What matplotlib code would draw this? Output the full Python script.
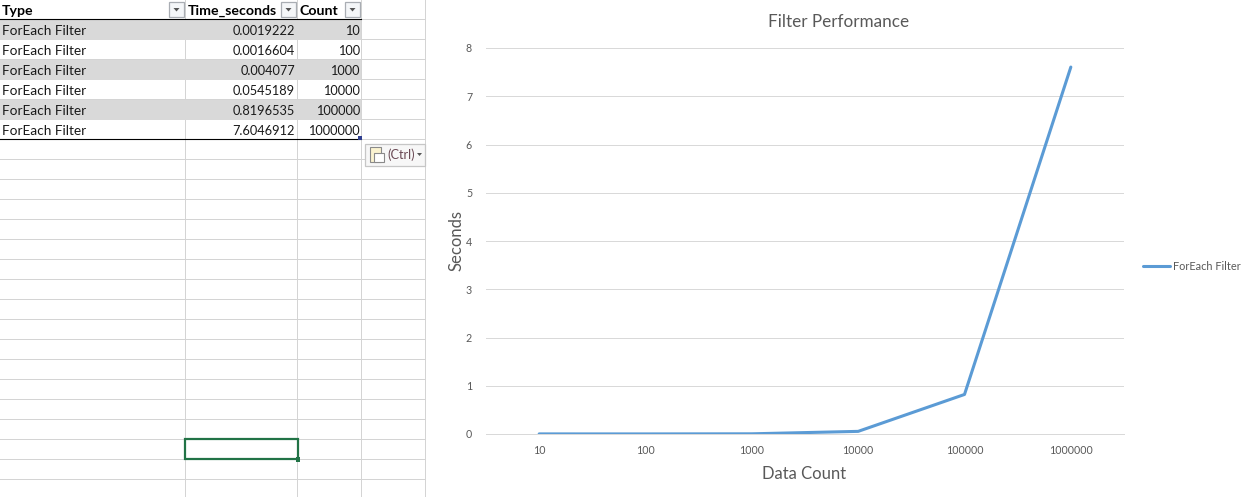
import matplotlib
matplotlib.use('Agg')
import matplotlib.pyplot as plt
from matplotlib.patches import Rectangle, Polygon

plt.rcParams['font.family'] = ['Lato', 'DejaVu Sans']

# --- Data ---
SERIES_NAME = 'ForEach Filter'
COUNTS = [10, 100, 1000, 10000, 100000, 1000000]
TIMES = [0.0019222, 0.0016604, 0.004077, 0.0545189, 0.8196535, 7.6046912]
HEADERS = ['Type', 'Time_seconds', 'Count']
Y_TICKS = [0, 1, 2, 3, 4, 5, 6, 7, 8]

# --- Layout (pixels of the 1252x497 picture) ---
W, H = 1252, 497
COL_LINES = [185, 297, 361, 425]
ROW_H = 20
GRID = '#d4d4d4'
TEXT = '#595959'
LINE_BLUE = '#5b9bd5'

fig = plt.figure(figsize=(W / 100, H / 100), dpi=100)

# --- Spreadsheet part ---
sheet = fig.add_axes([0, 0, 1, 1])
sheet.set_xlim(0, W)
sheet.set_ylim(H, 0)
sheet.axis('off')

for i in range(1, 25):
    sheet.plot([0, 425], [i * ROW_H - 1] * 2, color=GRID, lw=0.72, zorder=1)
for x in COL_LINES:
    sheet.plot([x, x], [0, H], color=GRID, lw=0.72, zorder=1)

for i in range(len(COUNTS)):
    top = 20 + i * ROW_H
    if i % 2 == 0:
        sheet.add_patch(Rectangle((0, top), 361, ROW_H, color='#d9d9d9', lw=0, zorder=2))
    mid = top + 11
    sheet.text(2, mid, SERIES_NAME, fontsize=9.8, color='#1a1a1a', va='center', zorder=4)
    sheet.text(295, mid, str(TIMES[i]), fontsize=9.2, color='#1a1a1a', va='center', ha='right', zorder=4)
    sheet.text(360, mid, str(COUNTS[i]), fontsize=9.2, color='#1a1a1a', va='center', ha='right', zorder=4)

sheet.plot([0, 361], [19, 19], color='black', lw=0.8, zorder=3)
sheet.plot([0, 361], [139, 139], color='black', lw=0.8, zorder=3)
sheet.add_patch(Rectangle((358, 136), 3.5, 3.5, color='#2f3f8f', lw=0, zorder=5))

# header row with filter buttons
for label, x in zip(HEADERS, [2, 188, 300]):
    sheet.text(x, 11, label, fontsize=10.2, fontweight='bold', color='black', va='center', zorder=4)
for x in [169, 281, 345]:
    sheet.add_patch(Rectangle((x, 2), 15, 15, fc='#f4f6f8', ec='#a9adb3', lw=0.9, zorder=4))
    sheet.add_patch(Polygon([(x + 4.5, 8), (x + 10.5, 8), (x + 7.5, 11.5)], color='#555555', lw=0, zorder=5))

# paste options button
sheet.add_patch(Rectangle((365, 143.5), 59.5, 22, fc='#f7f7f7', ec='#c6c6c6', lw=0.9, zorder=4))
sheet.add_patch(Rectangle((370, 147), 11, 15, fc='#fbf3d0', ec='#8a8a8a', lw=0.8, zorder=5))
sheet.add_patch(Rectangle((374, 153), 10, 9, fc='white', ec='#8a8a8a', lw=0.8, zorder=6))
sheet.text(387.5, 154.5, '(Ctrl)', fontsize=9.2, color='#6b4a55', va='center', zorder=5)
sheet.add_patch(Polygon([(417, 153), (422, 153), (419.5, 156)], color='#555555', lw=0, zorder=5))

# selected cell
sheet.add_patch(Rectangle((185, 439), 113, 20, fill=False, ec='#217346', lw=1.6, zorder=6))
sheet.add_patch(Rectangle((295.5, 457), 4.5, 4.5, color='#217346', lw=0, zorder=7))

# --- Chart part ---
ax = fig.add_axes([486 / W, (H - 434) / H, (1124 - 486) / W, (434 - 48) / H])
ax.patch.set_alpha(0)
positions = range(len(COUNTS))
ax.plot(positions, TIMES, color=LINE_BLUE, lw=2.2, solid_capstyle='round', label=SERIES_NAME, zorder=3)
ax.set_xlim(-0.5, 5.5)
ax.set_ylim(0, 8)
ax.set_xticks(list(positions))
ax.set_xticklabels([str(c) for c in COUNTS])
ax.set_yticks(Y_TICKS)
ax.grid(axis='y', color='#d9d9d9', lw=0.72)
ax.set_axisbelow(True)
ax.tick_params(length=0, labelsize=7.7, labelcolor=TEXT)
ax.tick_params(axis='x', pad=8)
ax.tick_params(axis='y', pad=10)
for name, spine in ax.spines.items():
    spine.set_visible(name == 'bottom')
ax.spines['bottom'].set_color('#d9d9d9')
ax.spines['bottom'].set_linewidth(0.72)

sheet.text(839, 22, 'Filter Performance', fontsize=12.3, color=TEXT, ha='center', va='center')
sheet.text(456, 240.5, 'Seconds', fontsize=12, color=TEXT, ha='center', va='center', rotation=90)
sheet.text(804.5, 474, 'Data Count', fontsize=12, color=TEXT, ha='center', va='center')

ax.legend(loc='center left', bbox_to_anchor=(1143 / W, (H - 266) / H), bbox_transform=fig.transFigure,
          frameon=False, fontsize=7.9, labelcolor=TEXT, handlelength=2.45, handletextpad=0.3,
          borderpad=0, borderaxespad=0)

fig.savefig('out.png', dpi=100)
